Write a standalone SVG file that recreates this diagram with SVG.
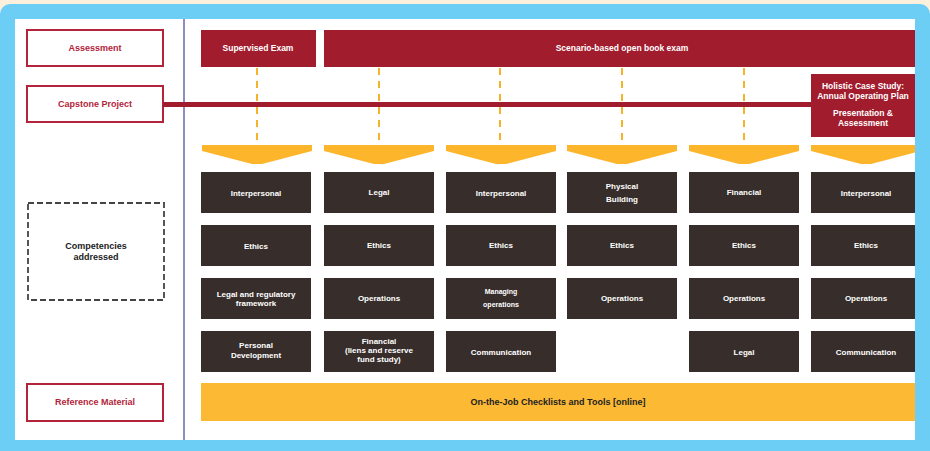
<svg xmlns="http://www.w3.org/2000/svg" width="930" height="451" viewBox="0 0 930 451">
<style>
.lbl{fill:#fff;stroke:#b3243a;stroke-width:2}
.lbltxt{font-family:"Liberation Sans",Arial,sans-serif;font-weight:bold;font-size:9px;fill:#b3243a;text-anchor:middle}
.red{fill:#a11c2c}
.wt{font-family:"Liberation Sans",Arial,sans-serif;font-weight:bold;font-size:8.5px;fill:#fff;text-anchor:middle}
.tile{fill:#372d2a}
.tt{font-family:"Liberation Sans",Arial,sans-serif;font-weight:bold;font-size:8px;fill:#fff;text-anchor:middle}
.tts{font-family:"Liberation Sans",Arial,sans-serif;font-weight:bold;font-size:7px;fill:#fff;text-anchor:middle}
.chev{fill:#fdb52c}
.dash{stroke:#f4b32b;stroke-width:2;stroke-dasharray:7 6;fill:none}
.blk{font-family:"Liberation Sans",Arial,sans-serif;font-weight:bold;font-size:9px;fill:#222;text-anchor:middle}
</style>
<defs>
<polygon id="chev" class="chev" points="0,0 110,0 110,6 60,19 50,19 0,6"/>
<clipPath id="panel"><rect x="15" y="19" width="900" height="421"/></clipPath>
</defs>
<!-- frame -->
<rect x="0" y="0" width="930" height="451" fill="#fbf0dc"/>
<rect x="0" y="4" width="930" height="447" rx="10" fill="#6dcef5"/>
<rect x="0" y="30" width="930" height="421" fill="#6dcef5"/>
<rect x="15" y="19" width="900" height="421" fill="#ffffff"/>
<line x1="184" y1="19" x2="184" y2="440" stroke="#6a66ad" stroke-width="1.5"/>

<g id="label-assessment">
<rect class="lbl" x="27" y="30" width="136" height="36"/>
<text class="lbltxt" x="95" y="51">Assessment</text>
</g>
<g id="label-capstone">
<rect class="lbl" x="27" y="86" width="136" height="36"/>
<text class="lbltxt" x="95" y="107">Capstone Project</text>
</g>
<g id="label-competencies">
<rect x="28" y="203" width="136" height="97" fill="#fff" stroke="#444" stroke-width="1.8" stroke-dasharray="6 3"/>
<text class="blk" x="96" y="249">Competencies</text>
<text class="blk" x="96" y="260">addressed</text>
</g>
<g id="label-reference">
<rect class="lbl" x="27" y="384" width="136" height="37"/>
<text class="lbltxt" x="95" y="405">Reference Material</text>
</g>

<g id="connectors">
<line x1="163" y1="104.5" x2="812" y2="104.5" stroke="#a11c2c" stroke-width="5"/>
<line class="dash" x1="257" y1="68" x2="257" y2="145"/>
<line class="dash" x1="379" y1="68" x2="379" y2="145"/>
<line class="dash" x1="500" y1="68" x2="500" y2="145"/>
<line class="dash" x1="622" y1="68" x2="622" y2="145"/>
<line class="dash" x1="744" y1="68" x2="744" y2="145"/>
</g>

<g id="supervised-exam">
<rect class="red" x="201" y="30" width="115" height="37"/>
<text class="wt" x="258" y="51">Supervised Exam</text>
</g>
<g id="scenario-exam">
<rect class="red" x="324" y="30" width="591" height="37"/>
<text class="wt" x="622" y="51">Scenario-based open book exam</text>
</g>
<g id="holistic">
<rect class="red" x="811" y="74" width="104" height="63"/>
<text class="wt" x="863" y="89">Holistic Case Study:</text>
<text class="wt" x="863" y="99">Annual Operating Plan</text>
<text class="wt" x="863" y="116">Presentation &amp;</text>
<text class="wt" x="863" y="126">Assessment</text>
</g>

<g id="chevrons" clip-path="url(#panel)">
<use href="#chev" x="202" y="145"/>
<use href="#chev" x="324" y="145"/>
<use href="#chev" x="446" y="145"/>
<use href="#chev" x="567" y="145"/>
<use href="#chev" x="689" y="145"/>
<use href="#chev" x="811" y="145"/>
</g>

<g id="col1">
<rect class="tile" x="201" y="172" width="110" height="41"/><text class="tt" x="256" y="196">Interpersonal</text>
<rect class="tile" x="201" y="225" width="110" height="41"/><text class="tt" x="256" y="249">Ethics</text>
<rect class="tile" x="201" y="278" width="110" height="41"/><text class="tt" x="256" y="297">Legal and regulatory</text><text class="tt" x="256" y="306">framework</text>
<rect class="tile" x="201" y="331" width="110" height="41"/><text class="tt" x="256" y="348">Personal</text><text class="tt" x="256" y="358">Development</text>
</g>
<g id="col2">
<rect class="tile" x="324" y="172" width="110" height="41"/><text class="tt" x="379" y="195">Legal</text>
<rect class="tile" x="324" y="225" width="110" height="41"/><text class="tt" x="379" y="248">Ethics</text>
<rect class="tile" x="324" y="278" width="110" height="41"/><text class="tt" x="379" y="301">Operations</text>
<rect class="tile" x="324" y="331" width="110" height="41"/><text class="tt" x="379" y="344">Financial</text><text class="tt" x="379" y="353">(liens and reserve</text><text class="tt" x="379" y="362">fund study)</text>
</g>
<g id="col3">
<rect class="tile" x="446" y="172" width="110" height="41"/><text class="tt" x="501" y="196">Interpersonal</text>
<rect class="tile" x="446" y="225" width="110" height="41"/><text class="tt" x="501" y="248">Ethics</text>
<rect class="tile" x="446" y="278" width="110" height="41"/><text class="tts" x="501" y="294">Managing</text><text class="tts" x="501" y="307">operations</text>
<rect class="tile" x="446" y="331" width="110" height="41"/><text class="tt" x="501" y="355">Communication</text>
</g>
<g id="col4">
<rect class="tile" x="567" y="172" width="110" height="41"/><text class="tt" x="622" y="189">Physical</text><text class="tt" x="622" y="202">Building</text>
<rect class="tile" x="567" y="225" width="110" height="41"/><text class="tt" x="622" y="248">Ethics</text>
<rect class="tile" x="567" y="278" width="110" height="41"/><text class="tt" x="622" y="301">Operations</text>
</g>
<g id="col5">
<rect class="tile" x="689" y="172" width="110" height="41"/><text class="tt" x="744" y="195">Financial</text>
<rect class="tile" x="689" y="225" width="110" height="41"/><text class="tt" x="744" y="248">Ethics</text>
<rect class="tile" x="689" y="278" width="110" height="41"/><text class="tt" x="744" y="301">Operations</text>
<rect class="tile" x="689" y="331" width="110" height="41"/><text class="tt" x="744" y="355">Legal</text>
</g>
<g id="col6">
<rect class="tile" x="811" y="172" width="104" height="41"/><text class="tt" x="866" y="196">Interpersonal</text>
<rect class="tile" x="811" y="225" width="104" height="41"/><text class="tt" x="866" y="248">Ethics</text>
<rect class="tile" x="811" y="278" width="104" height="41"/><text class="tt" x="866" y="301">Operations</text>
<rect class="tile" x="811" y="331" width="104" height="41"/><text class="tt" x="866" y="355">Communication</text>
</g>

<g id="reference-bar">
<rect x="201" y="383" width="714" height="38" fill="#fcb934"/>
<text class="blk" x="558" y="405">On-the-Job Checklists and Tools [online]</text>
</g>
</svg>
